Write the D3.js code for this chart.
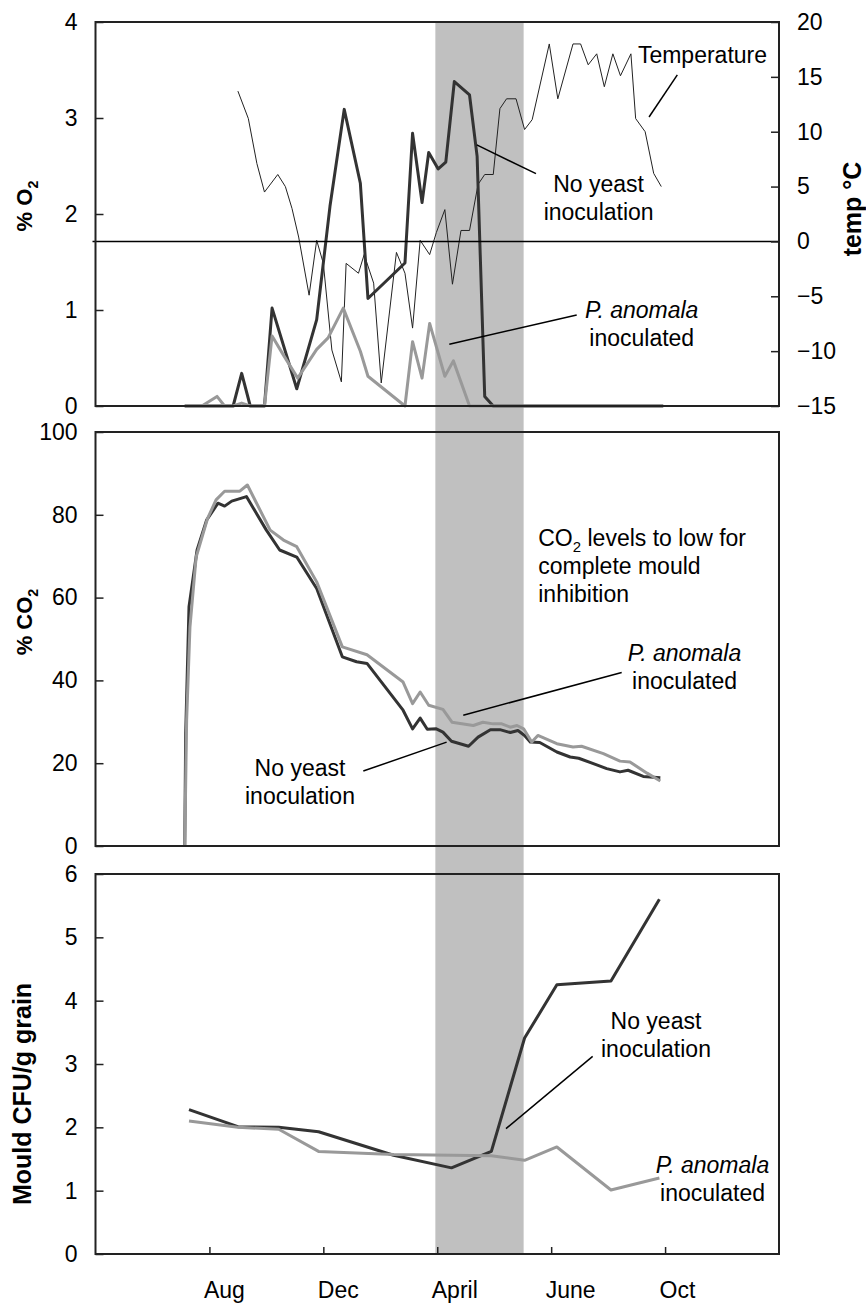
<!DOCTYPE html>
<html>
<head>
<meta charset="utf-8">
<script src="https://cdnjs.cloudflare.com/ajax/libs/d3/7.8.5/d3.min.js"></script>
<style>
  body { margin: 0; background: #fff; }
  text { font-family: Arial, "Liberation Sans", sans-serif; fill: #000; }
</style>
</head>
<body>
<svg id="chart" width="866" height="1307"></svg>
<script>
// x values are days from the start of the storage trial
const monthTicks = [120, 240, 360, 480, 600];
const monthLabels = ['Aug', 'Dec', 'April', 'June', 'Oct'];
const bandDays = [358, 451];

// top panel: oxygen and temperature
const o2NoYeastDays = [94,127,145,154,163,178,186,212,233,247,262,279,287,326,334,344,351,361,369,378,394,402,410,419,598];
const o2NoYeast = [0,0,0,0.34,0,0,1.02,0.18,0.9,2.08,3.09,2.32,1.12,1.49,2.84,2.12,2.64,2.47,2.54,3.38,3.24,2.6,0.1,0,0];
const o2PichiaDays = [94,112,128,136,145,154,163,178,186,198,213,233,245,261,279,287,326,334,344,352,368,377,394,598];
const o2Pichia = [0,0,0.1,0,0,0.03,0,0,0.73,0.53,0.29,0.59,0.71,1.02,0.57,0.31,0,0.67,0.29,0.86,0.31,0.47,0,0];
const tempDays = [150,161,170,178,192,200,207,214,225,233,240,249,259,264,277,283,293,301,317,326,
  334,342,352,359,368,376,385,394,403,410,419,426,433,443,452,460,478,487,503,511,
  519,528,536,545,553,564,569,579,588,596];
const tempValues = [13.7,11.2,7.1,4.5,6.1,5.0,3.0,0.4,-4.9,0.1,-2.0,-9.9,-12.8,-2.0,-2.9,-1.2,-3.8,-12.9,-1.0,-2.9,
  -7.9,0.1,-1.2,0.8,2.9,-3.9,1.0,1.0,5.2,6.1,6.1,12.1,13.0,13.0,10.2,11.1,18.0,13.0,18.0,18.0,
  16.1,17.1,14.1,17.1,15.1,17.1,11.2,10.0,6.2,5.0];
const o2Ticks = [0, 1, 2, 3, 4];
const tempTicks = [-15, -10, -5, 0, 5, 10, 15, 20];

// middle panel: carbon dioxide
const co2NoYeastDays = [94,95,98.5,107,117,129,136,143.5,159,180,194,212,233,260,275,286,324,334,342,349.5,
  359,366,375,393,403,416,426,437,445,452,458,468,486,500,509,528,538.5,552.5,561,577,595];
const co2NoYeast = [0,27.1,57.8,71.5,78.7,82.8,82.1,83.3,84.4,76.3,71.5,69.8,62.2,45.7,44.5,44.1,32.8,28.3,30.9,28.2,
  28.3,27.5,25.3,24.1,26.3,28.1,28.1,27.4,27.9,26.7,25.1,25.0,22.7,21.5,21.2,19.6,18.7,17.9,18.3,16.8,16.5];
const co2PichiaDays = [94,96,99.5,106,118,127,136,152,160,184,198,212,233,260,286,324,334,342,351,366,
  375.5,398,408,419,428,437,444,451,459.5,466,486,503,512,535,552.5,563,581,595];
const co2Pichia = [0,30.4,52.9,69.8,79.1,83.6,85.7,85.7,87.2,76.3,73.9,72.3,63.8,48.1,46.2,39.6,34.4,37.2,34.0,33.0,
  29.9,29.1,29.9,29.5,29.5,28.7,29.1,28.3,25.1,26.7,24.7,23.9,24.1,22.3,20.5,20.3,17.6,15.7];
const co2Ticks = [0, 20, 40, 60, 80, 100];

// bottom panel: mould counts
const mouldNoYeastDays = [98.5,150,193,235,314,375,417,452,486,543,594];
const mouldNoYeast = [2.28,2.01,2.0,1.93,1.56,1.36,1.62,3.41,4.25,4.31,5.6];
const mouldPichiaDays = [98.5,150,193,235,314,417,452,486,543,594];
const mouldPichia = [2.1,2.0,1.97,1.62,1.57,1.55,1.48,1.69,1.01,1.2];
const mouldTicks = [0, 1, 2, 3, 4, 5, 6];

const dark = '#333333', grey = '#999999', band = '#c0c0c0';
const left = 95.5, right = 779;
const panels = {
  top: [22, 406],
  mid: [432, 846],
  bot: [874, 1254]
};

const svg = d3.select('#chart');

const x = d3.scaleLinear().domain([0, 720]).range([left, right]);
const yO2 = d3.scaleLinear().domain([0, 4]).range([panels.top[1], panels.top[0]]);
const yTemp = d3.scaleLinear().domain([-15, 20]).range([panels.top[1], panels.top[0]]);
const yCO2 = d3.scaleLinear().domain([0, 100]).range([panels.mid[1], panels.mid[0]]);
const yMould = d3.scaleLinear().domain([0, 6]).range([panels.bot[1], panels.bot[0]]);

// shaded period across all three panels
svg.append('rect')
  .attr('x', x(bandDays[0]))
  .attr('y', panels.top[0])
  .attr('width', x(bandDays[1]) - x(bandDays[0]))
  .attr('height', panels.bot[1] - panels.top[0])
  .attr('fill', band);

function drawLine(days, values, y, color, width) {
  const pts = days.map((d, i) => [d, values[i]]);
  svg.append('path')
    .datum(pts)
    .attr('fill', 'none')
    .attr('stroke', color)
    .attr('stroke-width', width)
    .attr('stroke-linejoin', 'round')
    .attr('d', d3.line().x(d => x(d[0])).y(d => y(d[1])));
}

drawLine(tempDays, tempValues, yTemp, '#222', 1);
drawLine(o2NoYeastDays, o2NoYeast, yO2, dark, 3);
drawLine(o2PichiaDays, o2Pichia, yO2, grey, 3);
drawLine(co2NoYeastDays, co2NoYeast, yCO2, dark, 3);
drawLine(co2PichiaDays, co2Pichia, yCO2, grey, 3);
drawLine(mouldNoYeastDays, mouldNoYeast, yMould, dark, 3);
drawLine(mouldPichiaDays, mouldPichia, yMould, grey, 3);

// 0 degree line
svg.append('line')
  .attr('x1', left - 3).attr('x2', right)
  .attr('y1', yTemp(0)).attr('y2', yTemp(0))
  .attr('stroke', '#000').attr('stroke-width', 1.5);

// frames
Object.values(panels).forEach(p => {
  svg.append('rect')
    .attr('x', left).attr('y', p[0])
    .attr('width', right - left).attr('height', p[1] - p[0])
    .attr('fill', 'none').attr('stroke', '#222').attr('stroke-width', 2);
});

function styleAxis(g) {
  g.select('.domain').remove();
  g.selectAll('.tick line').attr('stroke', '#222').attr('stroke-width', 1.5);
  g.selectAll('.tick text').attr('font-size', 23).attr('fill', '#000')
    .style('font-family', 'Arial, "Liberation Sans", sans-serif');
}

const fmt = d3.format('d');
svg.append('g').attr('transform', `translate(${left},0)`)
  .call(d3.axisLeft(yO2).tickValues(o2Ticks).tickSize(-8).tickPadding(18).tickFormat(fmt))
  .call(styleAxis);
svg.append('g').attr('transform', `translate(${right},0)`)
  .call(d3.axisRight(yTemp).tickValues(tempTicks).tickSize(-8).tickPadding(18).tickFormat(fmt))
  .call(styleAxis);
svg.append('g').attr('transform', `translate(${left},0)`)
  .call(d3.axisLeft(yCO2).tickValues(co2Ticks).tickSize(-8).tickPadding(18).tickFormat(fmt))
  .call(styleAxis);
svg.append('g').attr('transform', `translate(${left},0)`)
  .call(d3.axisLeft(yMould).tickValues(mouldTicks).tickSize(-8).tickPadding(18).tickFormat(fmt))
  .call(styleAxis);
svg.append('g').attr('transform', `translate(0,${panels.bot[1]})`)
  .call(d3.axisBottom(x).tickValues(monthTicks).tickSize(-7).tickPadding(28)
    .tickFormat((d, i) => monthLabels[i]))
  .call(styleAxis)
  .call(g => g.selectAll('.tick text').attr('text-anchor', 'start').attr('x', -6));

// axis titles
function title(cx, cy, size, parts) {
  const t = svg.append('text')
    .attr('transform', `translate(${cx},${cy}) rotate(-90)`)
    .attr('text-anchor', 'middle')
    .attr('font-weight', 'bold')
    .attr('font-size', size);
  parts.forEach(p => {
    const s = t.append('tspan').text(p.t);
    if (p.sub) s.attr('font-size', size * 0.65).attr('dy', size * 0.25);
  });
}
title(32, 206, 22, [{ t: '% O' }, { t: '2', sub: true }]);
title(32, 622, 22, [{ t: '% CO' }, { t: '2', sub: true }]);
title(31, 1094, 25, [{ t: 'Mould CFU/g grain' }]);
title(861, 209, 25, [{ t: 'temp °C' }]);

// annotations, positioned in data units of each panel
function label(day, val, y, lines, anchor) {
  const t = svg.append('text')
    .attr('x', x(day)).attr('y', y(val))
    .attr('font-size', 23)
    .attr('text-anchor', anchor || 'middle');
  lines.forEach((ln, i) => {
    const s = t.append('tspan').attr('x', x(day)).attr('dy', i ? 28 : 0);
    ln.forEach(p => {
      const ts = s.append('tspan').text(p.t);
      if (p.i) ts.attr('font-style', 'italic');
      if (p.sub) ts.attr('font-size', 15).attr('dy', 6);
      if (p.after) ts.attr('dy', -6);
    });
  });
}
function leader(d1, v1, d2, v2, y) {
  svg.append('line')
    .attr('x1', x(d1)).attr('y1', y(v1))
    .attr('x2', x(d2)).attr('y2', y(v2))
    .attr('stroke', '#000').attr('stroke-width', 1.5);
}

label(571.4, 3.57, yO2, [[{ t: 'Temperature' }]], 'start');
leader(612.9, 3.45, 583.1, 3.01, yO2);
label(530, 2.23, yO2, [[{ t: 'No yeast' }], [{ t: 'inoculation' }]]);
leader(401.6, 2.72, 464, 2.42, yO2);
label(575.4, 0.914, yO2, [[{ t: 'P. anomala', i: true }], [{ t: 'inoculated' }]]);
leader(372.7, 0.643, 506.9, 0.948, yO2);

label(466.4, 72.4, yCO2, [[{ t: 'CO' }, { t: '2', sub: true }, { t: ' levels to low for', after: true }],
  [{ t: 'complete mould' }], [{ t: 'inhibition' }]], 'start');
label(620.5, 44.7, yCO2, [[{ t: 'P. anomala', i: true }], [{ t: 'inoculated' }]]);
leader(554.3, 41.9, 387.4, 31.6, yCO2);
label(215.4, 17.0, yCO2, [[{ t: 'No yeast' }], [{ t: 'inoculation' }]]);
leader(282.1, 18.1, 369.9, 25.1, yCO2);

label(590.4, 3.56, yMould, [[{ t: 'No yeast' }], [{ t: 'inoculation' }]]);
leader(523.7, 3.12, 432.4, 1.98, yMould);
label(650, 1.28, yMould, [[{ t: 'P. anomala', i: true }], [{ t: 'inoculated' }]]);
</script>
</body>
</html>
